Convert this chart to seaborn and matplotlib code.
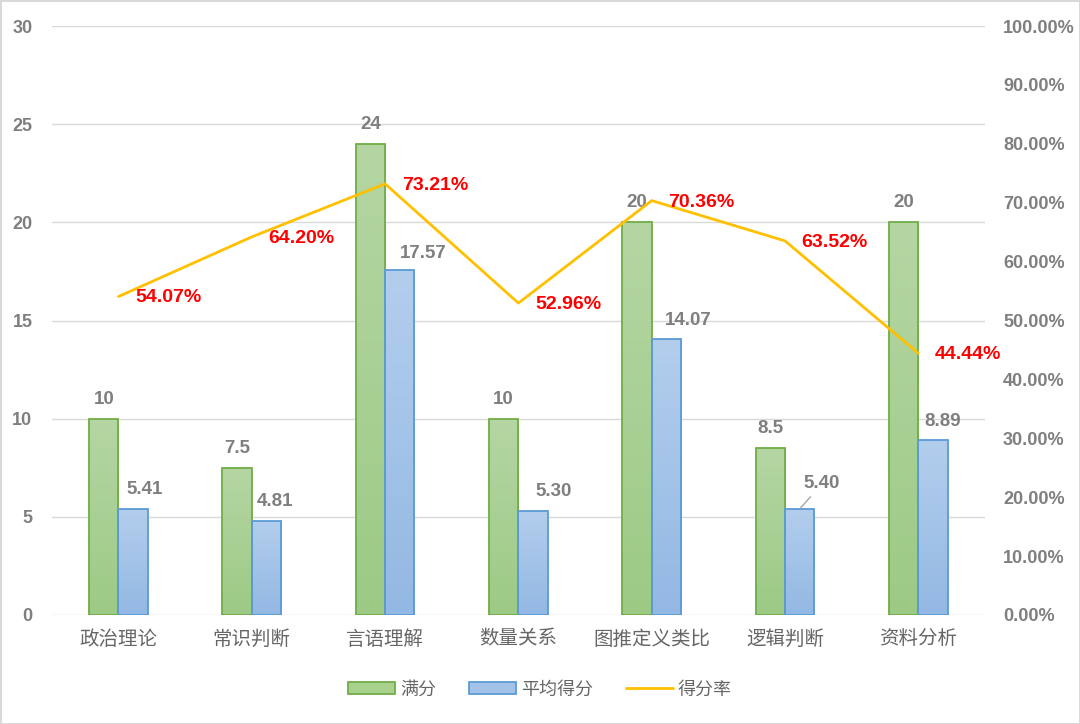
import numpy as np
import pandas as pd
import matplotlib
matplotlib.use("Agg")
from matplotlib import pyplot as plt
from matplotlib.ticker import PercentFormatter, MultipleLocator
from matplotlib.patches import Patch
from matplotlib.lines import Line2D
from matplotlib.colors import LinearSegmentedColormap
import seaborn as sns

categories = ["政治理论", "常识判断", "言语理解", "数量关系", "图推定义类比", "逻辑判断", "资料分析"]
full_score = [10, 7.5, 24, 10, 20, 8.5, 20]
avg_score = [5.41, 4.81, 17.57, 5.30, 14.07, 5.40, 8.89]
score_rate = [54.07, 64.20, 73.21, 52.96, 70.36, 63.52, 44.44]
full_labels = ["10", "7.5", "24", "10", "20", "8.5", "20"]
avg_labels = ["5.41", "4.81", "17.57", "5.30", "14.07", "5.40", "8.89"]
rate_labels = ["54.07%", "64.20%", "73.21%", "52.96%", "70.36%", "63.52%", "44.44%"]
series_names = ["满分", "平均得分", "得分率"]

sns.set_style("white")
plt.rcParams["font.family"] = ["Liberation Sans", "Noto Sans CJK SC"]

GREEN, GREEN_EDGE = "#A9D18E", "#70AD47"
BLUE, BLUE_EDGE = "#A2C2E8", "#5B9BD5"
GOLD = "#FFC000"
GRAY = "#7F7F7F"
green_cmap = LinearSegmentedColormap.from_list("g", ["#9CCA85", "#B5D6A3"])
blue_cmap = LinearSegmentedColormap.from_list("b", ["#93B8E3", "#B3CEED"])

# label placement (offset points) for the average-score labels, as in the original
avg_label_dx = [8, 6.5, 17, 14.5, 16, 16, 7]
avg_label_dy = [14, 14, 12, 14, 13, 18, 14]

df = pd.DataFrame({
    "cat": categories * 2,
    "val": full_score + avg_score,
    "series": [series_names[0]] * 7 + [series_names[1]] * 7,
})

fig = plt.figure(figsize=(10.8, 7.24), dpi=100)
fig.patch.set_edgecolor("#D9D9D9")
fig.patch.set_linewidth(2)
ax = fig.add_axes([0.048, 0.1506, 0.864, 0.8134])

sns.barplot(data=df, x="cat", y="val", hue="series", ax=ax, width=0.44, gap=0,
            palette=[GREEN, BLUE], saturation=1, legend=False, errorbar=None)

# gradient fill for the bars, clipped to each bar
grad = np.linspace(0, 1, 256).reshape(-1, 1)
bars = list(ax.patches)
for k, patch in enumerate(bars):
    is_green = k < 7
    patch.set_edgecolor(GREEN_EDGE if is_green else BLUE_EDGE)
    patch.set_linewidth(1.3)
    patch.set_facecolor("none")
    x0, y0 = patch.get_x(), patch.get_y()
    w, h = patch.get_width(), patch.get_height()
    im = ax.imshow(grad, cmap=green_cmap if is_green else blue_cmap, origin="lower",
                   extent=(x0, x0 + w, y0, y0 + h), aspect="auto",
                   zorder=patch.get_zorder() - 0.1)
    im.set_clip_path(patch)

ax.set_ylim(0, 30)
ax.set_xlim(-0.5, 6.5)
ax.yaxis.set_major_locator(MultipleLocator(5))
ax.grid(axis="y", color="#D9D9D9", linewidth=1)
ax.set_axisbelow(True)
for s in ax.spines.values():
    s.set_visible(False)
ax.set_xlabel("")
ax.set_ylabel("")
ax.tick_params(axis="y", length=0, pad=14, labelsize=13, labelcolor=GRAY)
ax.tick_params(axis="x", length=0, pad=11, labelsize=14, labelcolor="#666666")
for t in ax.get_yticklabels():
    t.set_fontweight("bold")

x = np.arange(len(categories))
for i in range(len(categories)):
    ax.annotate(full_labels[i], (x[i] - 0.11, full_score[i]), xytext=(0, 14),
                textcoords="offset points", ha="center", va="center",
                fontsize=13.5, fontweight="bold", color=GRAY)
    if avg_labels[i] == "5.40":
        ax.annotate(avg_labels[i], (x[i] + 0.11, avg_score[i]),
                    xytext=(avg_label_dx[i], avg_label_dy[i]),
                    textcoords="offset points", ha="center", va="center",
                    fontsize=13.5, fontweight="bold", color=GRAY,
                    arrowprops=dict(arrowstyle="-", color="#A6A6A6", lw=1,
                                    shrinkA=1, shrinkB=1))
    else:
        ax.annotate(avg_labels[i], (x[i] + 0.11, avg_score[i]),
                    xytext=(avg_label_dx[i], avg_label_dy[i]),
                    textcoords="offset points", ha="center", va="center",
                    fontsize=13.5, fontweight="bold", color=GRAY)

ax2 = ax.twinx()
rate = np.array(score_rate) / 100
sns.lineplot(x=x, y=rate, ax=ax2, color=GOLD, linewidth=2)
ax2.set_ylim(0, 1)
ax2.yaxis.set_major_locator(MultipleLocator(0.1))
ax2.yaxis.set_major_formatter(PercentFormatter(1.0, decimals=2))
for s in ax2.spines.values():
    s.set_visible(False)
ax2.tick_params(axis="y", length=0, pad=13, labelsize=13, labelcolor=GRAY)
for t in ax2.get_yticklabels():
    t.set_fontweight("bold")
for i in range(len(categories)):
    ax2.annotate(rate_labels[i], (x[i], rate[i]), xytext=(12, -1),
                 textcoords="offset points", ha="left", va="center",
                 fontsize=14, fontweight="bold", color="#FF0000")

handles = [
    Patch(facecolor=GREEN, edgecolor=GREEN_EDGE, linewidth=1.3),
    Patch(facecolor=BLUE, edgecolor=BLUE_EDGE, linewidth=1.3),
    Line2D([0], [0], color=GOLD, linewidth=2),
]
fig.legend(handles, series_names, loc="center", bbox_to_anchor=(0.5, 0.047),
           ncol=3, frameon=False, fontsize=13, labelcolor="#666666",
           handlelength=2.6, handleheight=0.6, handletextpad=0.3, columnspacing=1.8)

fig.savefig("out.png", dpi=100)
plt.close(fig)
